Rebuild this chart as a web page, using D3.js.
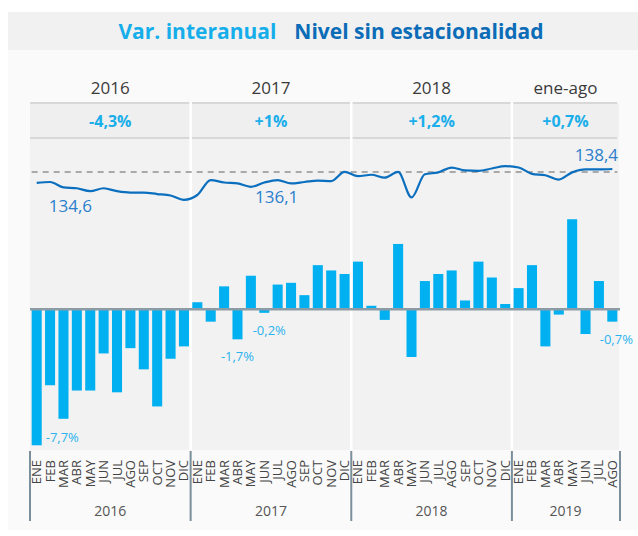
<!DOCTYPE html>
<html>
<head>
<meta charset="utf-8">
<script src="https://cdn.jsdelivr.net/npm/d3@7"></script>
<style>
  body { margin: 0; background: #fff; }
  svg { display: block; font-family: "Open Sans", sans-serif; }
</style>
</head>
<body>
<svg id="chart" width="638" height="536"></svg>
<script>
// ---- data ----
const years = ["2016", "2017", "2018", "2019"];
const yearHeads = ["2016", "2017", "2018", "ene-ago"];
const yearVar = ["-4,3%", "+1%", "+1,2%", "+0,7%"];
const monthNames = ["ENE","FEB","MAR","ABR","MAY","JUN","JUL","AGO","SEP","OCT","NOV","DIC"];
const monthsPerYear = [12, 12, 12, 8];

// year-on-year change (%), monthly
const varInteranual = [
  -7.7, -4.3, -6.2, -4.6, -4.6, -2.5, -4.7, -2.2, -3.4, -5.5, -2.8, -2.1,
   0.4, -0.7,  1.3, -1.7,  1.9, -0.2,  1.4,  1.5,  0.8,  2.5,  2.2,  2.0,
   2.7,  0.2, -0.6,  3.7, -2.7,  1.6,  2.0,  2.2,  0.5,  2.7,  1.8,  0.3,
   1.2,  2.5, -2.1, -0.3,  5.1, -1.4,  1.6, -0.7
];

// seasonally adjusted level, monthly
const nivel = [
  135.5, 135.7, 134.6, 134.4, 133.8, 134.4, 133.8, 133.5, 133.5, 133.2, 132.9, 132.0,
  133.0, 136.1, 135.6, 135.4, 134.7, 135.6, 136.1, 135.4, 135.7, 136.0, 135.9, 137.8,
  136.9, 137.2, 136.6, 137.8, 132.5, 137.3, 137.7, 138.7, 138.1, 138.0, 138.5, 139.0,
  138.7, 137.4, 137.1, 136.2, 137.7, 138.3, 138.3, 138.4
];
const nivelRef = 137.8;

// annotated points (index into the monthly series)
const barLabelIdx = [0, 15, 17, 43];
const lineLabelIdx = [2, 18, 43];

// ---- derived ----
const months = [];
years.forEach((y, yi) => {
  for (let m = 0; m < monthsPerYear[yi]; m++) months.push({ key: y + "-" + m, year: yi, name: monthNames[m] });
});
const keys = months.map(d => d.key);

const svg = d3.select("#chart");
const X0 = 30, X1 = 619;
const TOP = 103, BOTTOM = 450;

const x = d3.scaleBand().domain(keys).range([X0, X1]).paddingInner(0.25).paddingOuter(0.125);
const step = x.step();
const yBar = d3.scaleLinear().domain([-8, 5.5]).range([309.3 + 8 * 17.66, 309.3 - 5.5 * 17.66]);
const yLine = d3.scaleLinear().domain([132, 140]).range([187.3 + 2.6 * 4.82, 187.3 - 5.4 * 4.82]);

const fmt = v => d3.format(".1f")(v).replace(".", ",").replace("−", "-");

// year boundaries in pixels
const bounds = [];
let acc = 0;
monthsPerYear.forEach((n, i) => {
  bounds.push({ i, x0: X0 + acc * step, x1: X0 + (acc + n) * step });
  acc += n;
});

// ---- background ----
svg.append("rect").attr("x", 8).attr("y", 12).attr("width", 630).attr("height", 518).attr("fill", "#fafafa");
svg.append("rect").attr("x", 8).attr("y", 12).attr("width", 630).attr("height", 38).attr("fill", "#f1f1f1");

// title
const title = svg.append("text").attr("x", 331).attr("y", 39).attr("text-anchor", "middle")
  .attr("font-size", 21).attr("font-weight", 700);
title.append("tspan").attr("fill", "#15aeea").text("Var. interanual");
title.append("tspan").attr("dx", 18).attr("fill", "#0b6cb7").text("Nivel sin estacionalidad");

// plot panels
svg.append("rect").attr("x", X0).attr("y", TOP).attr("width", X1 - X0).attr("height", BOTTOM - TOP).attr("fill", "#f2f2f2");
svg.append("rect").attr("x", X0).attr("y", TOP).attr("width", X1 - X0).attr("height", 35).attr("fill", "#efefef");

// year headers and annual change
svg.selectAll(".yhead").data(bounds).join("text")
  .attr("x", d => (d.x0 + d.x1) / 2).attr("y", 94).attr("text-anchor", "middle")
  .attr("font-size", 17).attr("fill", "#3a3a3a").text(d => yearHeads[d.i]);
svg.selectAll(".yvar").data(bounds).join("text")
  .attr("x", d => (d.x0 + d.x1) / 2).attr("y", 127).attr("text-anchor", "middle")
  .attr("font-size", 16).attr("font-weight", 700).attr("fill", "#1aaeea").text(d => yearVar[d.i]);

// band borders
[TOP, TOP + 35].forEach(yy => {
  svg.append("line").attr("x1", X0).attr("x2", X1 - 2).attr("y1", yy).attr("y2", yy)
    .attr("stroke", "#d8d8d8").attr("stroke-width", 2);
});

// white separators between years
svg.selectAll(".sep").data(bounds.slice(1)).join("line")
  .attr("x1", d => d.x0).attr("x2", d => d.x0).attr("y1", TOP - 1).attr("y2", BOTTOM)
  .attr("stroke", "#ffffff").attr("stroke-width", 2.5);

// ---- bars ----
svg.selectAll(".bar").data(varInteranual).join("rect")
  .attr("x", (d, i) => x(keys[i]))
  .attr("width", x.bandwidth())
  .attr("y", d => yBar(Math.max(0, d)))
  .attr("height", d => Math.abs(yBar(d) - yBar(0)))
  .attr("fill", "#00b0f0");

svg.append("line").attr("x1", X0).attr("x2", X1 + 1).attr("y1", yBar(0)).attr("y2", yBar(0))
  .attr("stroke", "#8c9ca6").attr("stroke-width", 2.5);

// bar value labels
svg.selectAll(".blab").data(barLabelIdx).join("text")
  .attr("x", i => i === 0 ? x(keys[i]) + x.bandwidth() + 4 : x(keys[i]) + x.bandwidth() / 2 + (i === 17 ? 5 : i === 43 ? 4 : 0))
  .attr("y", i => i === 0 ? yBar(varInteranual[i]) - 3 : yBar(varInteranual[i]) + 22)
  .attr("text-anchor", i => i === 0 ? "start" : "middle")
  .attr("font-size", 13).attr("fill", "#2ab3ee")
  .text(i => fmt(varInteranual[i]) + "%");

// ---- level line ----
svg.append("line").attr("x1", x(keys[0])).attr("x2", x(keys[keys.length - 1]) + x.bandwidth())
  .attr("y1", yLine(nivelRef)).attr("y2", yLine(nivelRef))
  .attr("stroke", "#a9a9a9").attr("stroke-width", 2).attr("stroke-dasharray", "6,5");

const line = d3.line()
  .x((d, i) => x(keys[i]) + x.bandwidth() / 2)
  .y(d => yLine(d))
  .curve(d3.curveMonotoneX);
svg.append("path").datum(nivel).attr("d", line)
  .attr("fill", "none").attr("stroke", "#0b6fbf").attr("stroke-width", 2.2);

svg.selectAll(".llab").data(lineLabelIdx).join("text")
  .attr("x", i => i === 43 ? X1 - 1 : x(keys[i]) + x.bandwidth() / 2 + (i === 2 ? 7 : -1))
  .attr("y", i => i === 43 ? yLine(nivel[i]) - 8 : yLine(nivel[i]) + (i === 2 ? 25 : 23))
  .attr("text-anchor", i => i === 43 ? "end" : "middle")
  .attr("font-size", 17).attr("fill", "#2c7fcd")
  .text(i => fmt(nivel[i]));

// ---- x axis ----
svg.selectAll(".mlab").data(months).join("text")
  .attr("transform", d => `translate(${x(d.key) + x.bandwidth() / 2 + 4.5},${460}) rotate(-90)`)
  .attr("text-anchor", "end")
  .attr("font-size", 13).attr("fill", "#444").text(d => d.name);

const tickXs = bounds.map(b => b.x0).concat([bounds[bounds.length - 1].x1 + 1]);
svg.selectAll(".ytick").data(tickXs).join("line")
  .attr("x1", d => d).attr("x2", d => d).attr("y1", 451).attr("y2", 521)
  .attr("stroke", "#7b8f9b").attr("stroke-width", 2);

svg.selectAll(".ylab").data(bounds).join("text")
  .attr("x", d => (d.x0 + d.x1) / 2).attr("y", 516).attr("text-anchor", "middle")
  .attr("font-size", 14).attr("fill", "#555").text(d => years[d.i]);
</script>
</body>
</html>
